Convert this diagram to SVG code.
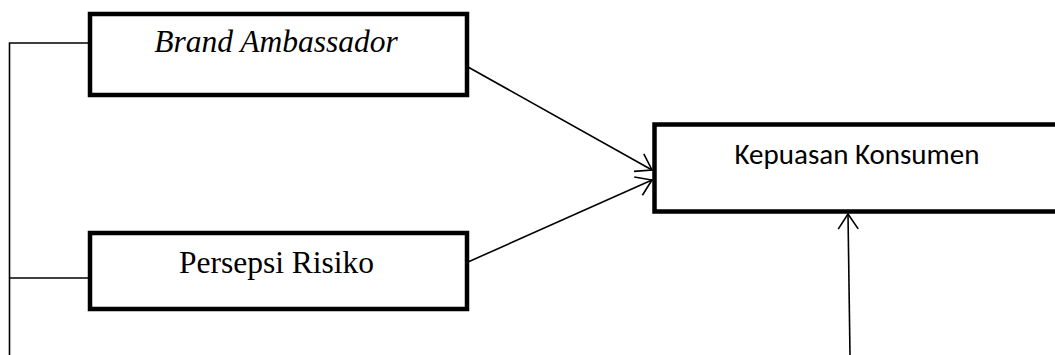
<svg xmlns="http://www.w3.org/2000/svg" width="1055" height="355" viewBox="0 0 1055 355">
  <style>
    .box { fill: #ffffff; stroke: #000000; stroke-width: 4.5; }
    .line { fill: none; stroke: #000000; stroke-width: 1.6; }
    .serif { font-family: "Liberation Serif", "Times New Roman", serif; font-size: 31.5px; fill: #000000; }
    .sans { font-family: "Carlito", "Open Sans", "Noto Sans", sans-serif; font-size: 29px; fill: #000000; }
  </style>
  <defs>
    <marker id="open-arrow" markerWidth="24" markerHeight="24" refX="16" refY="11" orient="auto" markerUnits="userSpaceOnUse">
      <path d="M 1 1 L 16 11 L 1 21" fill="none" stroke="#000000" stroke-width="1.6"/>
    </marker>
  </defs>

  <rect width="1055" height="355" fill="#ffffff"/>

  <g id="connectors">
    <!-- bracket linking the two independent variables -->
    <polyline class="line" points="90,43 9.5,43 9.5,355"/>
    <line class="line" x1="9.5" y1="278" x2="90" y2="278"/>
    <!-- paths into the dependent variable -->
    <line class="line" x1="468" y1="67" x2="652" y2="170" marker-end="url(#open-arrow)"/>
    <line class="line" x1="468" y1="262" x2="652" y2="180" marker-end="url(#open-arrow)"/>
    <line class="line" x1="850" y1="355" x2="848" y2="214" marker-end="url(#open-arrow)"/>
  </g>

  <g id="brand-ambassador">
    <rect class="box" x="90" y="14" width="377" height="81"/>
    <text class="serif" x="276" y="52" text-anchor="middle" font-style="italic">Brand Ambassador</text>
  </g>

  <g id="persepsi-risiko">
    <rect class="box" x="90" y="233" width="377" height="76"/>
    <text class="serif" x="276.5" y="273" text-anchor="middle">Persepsi Risiko</text>
  </g>

  <g id="kepuasan-konsumen">
    <rect class="box" x="654.5" y="124.5" width="420" height="87"/>
    <text class="sans" x="857" y="164" text-anchor="middle">Kepuasan Konsumen</text>
  </g>
</svg>
